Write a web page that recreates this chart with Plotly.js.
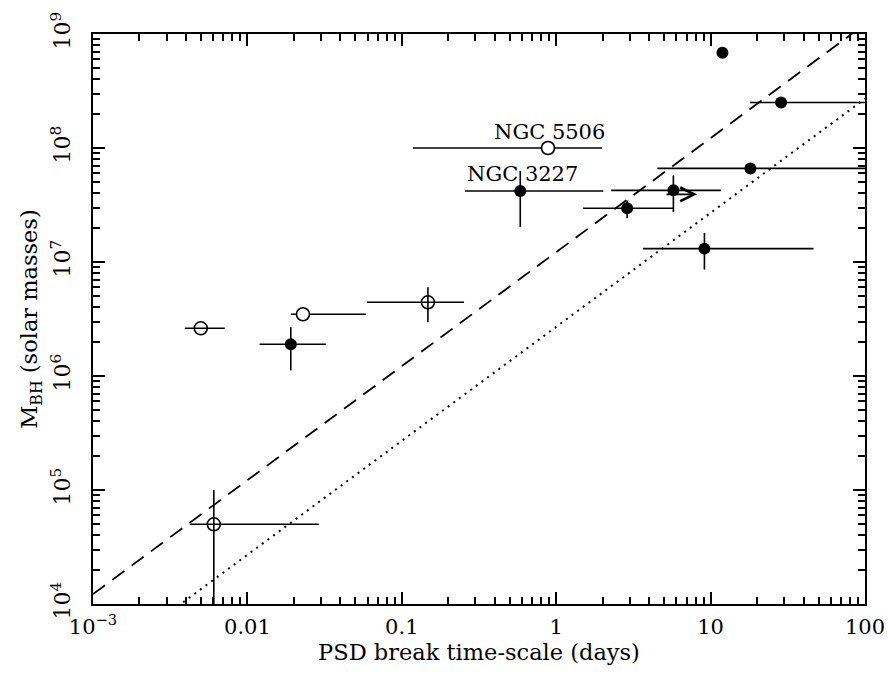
<!DOCTYPE html>
<html>
<head>
<meta charset="utf-8">
<script src="https://cdn.plot.ly/plotly-3.0.1.min.js"></script>
<style>html,body{margin:0;padding:0;background:#fff;}#chart{width:888px;height:673px;}</style>
</head>
<body>
<div id="chart"></div>
<script>
// Open circles
var openX    = [0.00499, 0.0229, 0.1476, 0.00606, 0.885];
var openY    = [2.62e6, 3.48e6, 4.43e6, 5.0e4, 1.0e8];
var openXlo  = [0.00393, 0.0191, 0.0594, 0.00423, 0.118];
var openXhi  = [0.00713, 0.0585, 0.253, 0.0290, 1.98];
var openYlo  = [2.62e6, 3.48e6, 2.96e6, 5.0e3, 1.0e8];
var openYhi  = [2.62e6, 3.48e6, 6.0e6, 1.0e5, 1.0e8];
var openFill = ['rgba(0,0,0,0)', 'white', 'rgba(0,0,0,0)', 'rgba(0,0,0,0)', 'white'];

// Filled circles
var fillX   = [0.0191, 0.585, 2.88, 5.74, 11.93, 28.6, 18.1, 9.12];
var fillY   = [1.9e6, 4.2e7, 2.96e7, 4.25e7, 6.84e8, 2.51e8, 6.62e7, 1.31e7];
var fillXlo = [0.0120, 0.257, 1.49, 2.27, 11.93, 18.0, 4.52, 3.65];
var fillXhi = [0.0322, 2.02, 5.71, 11.65, 11.93, 100, 100, 46.4];
var fillYlo = [1.12e6, 2.03e7, 2.42e7, 2.74e7, 6.3e8, 2.51e8, 6.62e7, 8.58e6];
var fillYhi = [2.68e6, 6.3e7, 3.47e7, 5.75e7, 7.4e8, 2.51e8, 6.62e7, 1.80e7];

// Relation lines (endpoints)
var dashX = [0.001, 100];
var dashY = [1.22e4, 1.22e9];
var dotX  = [0.001, 100];
var dotY  = [2.7e3, 2.7e8];

// Lower-limit arrow (timescale) for one source
var arrowFrom = [5.07, 3.92e7];
var arrowTo   = [8.17, 3.92e7];

// Labels
var labelText = ['NGC 5506', 'NGC 3227'];
var labelX = [0.905, 0.605];
var labelY = [1.37e8, 5.87e7];

// Ticks
var xTickVals = [0.001, 0.01, 0.1, 1, 10, 100];
var xTickText = ['10<sup>\u22123</sup>', '0.01', '0.1', '1', '10', '100'];
var yTickVals = [1e4, 1e5, 1e6, 1e7, 1e8, 1e9];
var yTickText = ['10<sup>4</sup>', '10<sup>5</sup>', '10<sup>6</sup>', '10<sup>7</sup>', '10<sup>8</sup>', '10<sup>9</sup>'];

function minors(k0, k1) {
  var out = [];
  for (var k = k0; k <= k1; k++) for (var m = 2; m <= 9; m++) out.push(m * Math.pow(10, k));
  return out;
}
function diff(a, b) { return a.map(function (v, i) { return Math.max(0, v - b[i]); }); }

var ebStyle = {type: 'data', symmetric: false, color: '#000', thickness: 1.6, width: 0};

var traces = [
  {x: dashX, y: dashY, mode: 'lines', line: {color: '#000', width: 1.8, dash: '15px,9px'}, hoverinfo: 'skip', showlegend: false},
  {x: dotX, y: dotY, mode: 'lines', line: {color: '#000', width: 2, dash: '2px,5px'}, hoverinfo: 'skip', showlegend: false},
  {x: openX, y: openY, mode: 'markers',
   marker: {symbol: 'circle', size: 13, color: openFill, line: {color: '#000', width: 1.6}},
   error_x: Object.assign({}, ebStyle, {array: diff(openXhi, openX), arrayminus: diff(openX, openXlo)}),
   error_y: Object.assign({}, ebStyle, {array: diff(openYhi, openY), arrayminus: diff(openY, openYlo)}),
   showlegend: false},
  {x: fillX, y: fillY, mode: 'markers',
   marker: {symbol: 'circle', size: 12, color: '#000', line: {width: 0}},
   error_x: Object.assign({}, ebStyle, {array: diff(fillXhi, fillX), arrayminus: diff(fillX, fillXlo)}),
   error_y: Object.assign({}, ebStyle, {array: diff(fillYhi, fillY), arrayminus: diff(fillY, fillYlo)}),
   showlegend: false}
];

var serif = 'DejaVu Serif';

var annotations = labelText.map(function (t, i) {
  return {x: Math.log10(labelX[i]), y: Math.log10(labelY[i]), xref: 'x', yref: 'y', text: t,
          showarrow: false, font: {family: serif, size: 21, color: '#000'}};
});
annotations.push({
  x: Math.log10(arrowTo[0]), y: Math.log10(arrowTo[1]),
  ax: Math.log10(arrowFrom[0]), ay: Math.log10(arrowFrom[1]),
  xref: 'x', yref: 'y', axref: 'x', ayref: 'y', text: '',
  showarrow: true, arrowhead: 5, arrowsize: 1.7, arrowwidth: 1.6, arrowcolor: '#000', standoff: 0, startstandoff: 0
});

var axisCommon = {
  type: 'log', showgrid: false, zeroline: false,
  showline: true, linecolor: '#000', linewidth: 2, mirror: 'allticks',
  ticks: 'inside', ticklen: 12, tickwidth: 1.8, tickcolor: '#000',
  tickmode: 'array'
};

var layout = {
  width: 888, height: 673,
  margin: {l: 93, r: 23, t: 34, b: 69, pad: 0},
  paper_bgcolor: '#fff', plot_bgcolor: '#fff',
  showlegend: false,
  xaxis: Object.assign({}, axisCommon, {
    range: [-3, 2], tickvals: xTickVals, ticktext: xTickText, ticklabelstandoff: 3,
    tickfont: {family: serif, size: 21, color: '#000'},
    minor: {tickmode: 'array', tickvals: minors(-3, 1), ticks: 'inside', ticklen: 7, tickwidth: 1.6, tickcolor: '#000', showgrid: false},
    title: {text: 'PSD break time-scale (days)', font: {family: serif, size: 22.5, color: '#000'}, standoff: 1}
  }),
  yaxis: Object.assign({}, axisCommon, {
    range: [4, 9], tickvals: yTickVals, ticktext: yTickText, tickangle: -90, ticklabelstandoff: 12,
    tickfont: {family: serif, size: 22, color: '#000'},
    minor: {tickmode: 'array', tickvals: minors(4, 8), ticks: 'inside', ticklen: 7, tickwidth: 1.6, tickcolor: '#000', showgrid: false},
    title: {text: 'M<sub>BH</sub> (solar masses)', font: {family: serif, size: 22.5, color: '#000'}, standoff: 3}
  }),
  annotations: annotations
};

Plotly.newPlot('chart', traces, layout, {displayModeBar: false});
</script>
</body>
</html>
